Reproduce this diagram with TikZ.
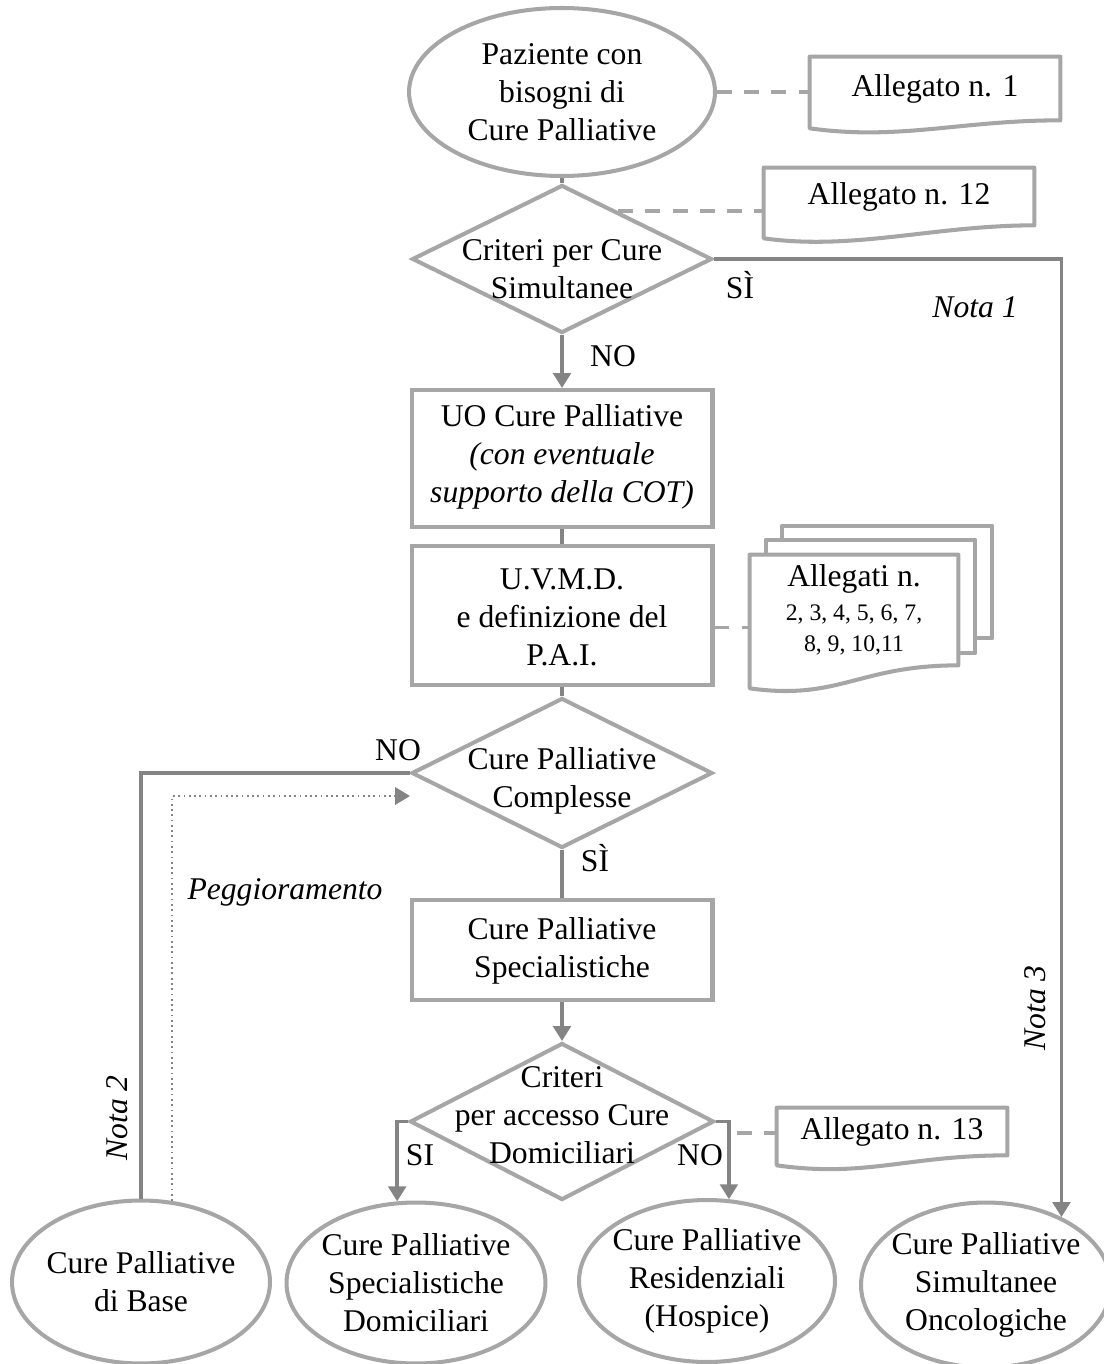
\documentclass[tikz,border=0pt]{standalone}
\usepackage{fontspec}
\setmainfont{Liberation Serif}
\usepackage{tikz}
\usetikzlibrary{shapes.geometric,arrows.meta,calc,backgrounds}

\definecolor{shapegray}{RGB}{166,166,166}
\definecolor{linegray}{RGB}{132,132,132}

% document shape with a wavy bottom edge, drawn round a named node
\newcommand{\docframe}[2]{%
  \draw[docline] (#1.north west) -- (#1.north east) -- (#1.south east)
    .. controls ([xshift=-2cm]#1.south east) and ([shift={(1.8cm,-#2cm-0.25cm)}]#1.south west)
    .. ([yshift=-#2cm]#1.south west) -- cycle;}

\begin{document}
\begin{tikzpicture}[x=0.02cm, y=-0.02cm,
  txt/.style={align=center, inner sep=0pt, font=\fontsize{18}{21.6}\selectfont},
  oval/.style={ellipse, draw=shapegray, line width=2.3pt, inner sep=0pt},
  decision/.style={diamond, draw=shapegray, line width=2.3pt, inner sep=0pt},
  block/.style={rectangle, draw=shapegray, line width=2.3pt, inner sep=0pt},
  doc/.style={txt, rectangle},
  docline/.style={draw=shapegray, line width=2.3pt, fill=white, line join=round},
  link/.style={draw=linegray, line width=2pt},
  arrow/.style={link, -{Triangle[width=10pt,length=8.5pt]}},
  dashlink/.style={draw=shapegray, line width=1.9pt, dash pattern=on 8.5pt off 7pt},
  dotlink/.style={draw=linegray, line width=1pt, dotted, -{Triangle[width=10pt,length=8.5pt]}},
  lbl/.style={inner sep=0pt, font=\fontsize{18}{21.6}\selectfont},
  nota/.style={inner sep=0pt, font=\fontsize{18}{21.6}\selectfont\itshape}]
\useasboundingbox (0,0) rectangle (1104,1364);

%nodes
\node[oval, minimum width=6.12cm, minimum height=3.36cm] (pat) at (562,92) {};
\node[txt] (patT) at (pat) {Paziente con\\bisogni di\\Cure Palliative};

\node[doc, minimum width=5cm, minimum height=1.26cm] (a1) at (935,88.5) {Allegato n. 1};
\node[doc, minimum width=5.4cm, minimum height=1.14cm] (a12) at (899,196.5) {Allegato n. 12};

\node[decision, minimum width=6cm, minimum height=2.96cm] (dec1) at (562,259) {};
\node[txt] (dec1T) at (562,269) {Criteri per Cure\\Simultanee};

\node[block, minimum width=6.02cm, minimum height=2.74cm] (uo) at (562,458.5) {};
\node[txt] (uoT) at (562,457) {UO Cure Palliative\\\textit{(con eventuale}\\\textit{supporto della COT)}};

\node[block, minimum width=6.02cm, minimum height=2.78cm] (uvmd) at (562,615.5) {};
\node[txt] (uvmdT) at (562,617) {U.V.M.D.\\e definizione del\\P.A.I.};

\node[doc, minimum width=4.16cm, minimum height=2.2cm] (st) at (854,610)
  {Allegati n.\\[-2pt]{\fontsize{13.5}{15}\selectfont 2, 3, 4, 5, 6, 7,}\\[-4pt]{\fontsize{13.5}{15}\selectfont 8, 9, 10,11}};

\node[decision, minimum width=6.02cm, minimum height=3cm] (dec2) at (562,773) {};
\node[txt] (dec2T) at (562,781) {Cure Palliative\\Complesse};

\node[block, minimum width=6.02cm, minimum height=2cm] (spec) at (562,950) {};
\node[txt] (specT) at (562,951) {Cure Palliative\\Specialistiche};

\node[decision, minimum width=6.08cm, minimum height=3.14cm] (dec3) at (562,1121.5) {};
\node[txt] (dec3T) at (562,1115) {Criteri\\per accesso Cure\\Domiciliari};

\node[doc, minimum width=4.6cm, minimum height=0.94cm] (a13) at (892,1131.5) {Allegato n. 13};

\node[oval, minimum width=5.16cm, minimum height=3.26cm] (base) at (141,1282) {};
\node[txt] (baseT) at (base) {Cure Palliative\\di Base};
\node[oval, minimum width=5.18cm, minimum height=3.22cm] (spdom) at (416,1283) {};
\node[txt] (spdomT) at (spdom) {Cure Palliative\\Specialistiche\\Domiciliari};
\node[oval, minimum width=5.12cm, minimum height=3.24cm] (resid) at (707,1281) {};
\node[txt] (residT) at (resid) {Cure Palliative\\Residenziali\\(Hospice)};
\node[oval, minimum width=5cm, minimum height=3.3cm] (simon) at (986,1285) {};
\node[txt] (simonT) at (simon) {Cure Palliative\\Simultanee\\Oncologiche};

%labels
\node[lbl] (si1) at (740,285) {SÌ};
\node[nota] (nota1) at (975,307) {Nota 1};
\node[lbl] (no1) at (613,356) {NO};
\node[lbl] (no2) at (398,750) {NO};
\node[lbl] (si2) at (595,858) {SÌ};
\node[nota] (pegg) at (285,892) {Peggioramento};
\node[nota, rotate=90] (nota2) at (117,1118) {Nota 2};
\node[nota, rotate=90] (nota3) at (1035,1008) {Nota 3};
\node[lbl] (si3) at (420,1155) {SI};
\node[lbl] (no3) at (700,1155) {NO};

%frames of the documents
\begin{scope}[on background layer]
\docframe{a1}{0.16}
\docframe{a12}{0.26}
\draw[docline] ([shift={(0.64cm,0.58cm)}]st.north west) rectangle ([shift={(0.68cm,0.54cm)}]st.south east);
\draw[docline] ([shift={(0.32cm,0.3cm)}]st.north west) rectangle ([shift={(0.34cm,0.24cm)}]st.south east);
\docframe{st}{0.46}
\docframe{a13}{0.2}
\end{scope}

%links
\coordinate (d1a) at ($(dec1.north)!0.37!(dec1.east)$);
\coordinate (uvd) at ([yshift=-0.24cm]uvmd.east);
\coordinate (d3a) at (737,1133);
\coordinate (peggEnd) at (410,796);

\draw[link] (pat) -- (dec1);
\draw[arrow] (dec1) -- (uo);
\draw[link] (uo) -- (uvmd);
\draw[link] (uvmd) -- (dec2);
\draw[link] (dec2) -- (spec);
\draw[arrow] (spec) -- (dec3);
\draw[arrow] (dec1.east) -| (simon.42);
\draw[link] (dec2.west) -| (base.north);
\draw[dotlink] (base.69) |- (peggEnd);
\draw[arrow] (dec3.west) -| (spdom.103);
\draw[arrow] (dec3.east) -| (resid.75);

\draw[dashlink] (pat.east) -- (pat.east -| a1.west);
\draw[dashlink] (d1a) -- (d1a -| a12.west);
\draw[dashlink] (uvd) -- (uvd -| st.west);
\draw[dashlink] (d3a) -- (d3a -| a13.west);
\end{tikzpicture}
\end{document}
